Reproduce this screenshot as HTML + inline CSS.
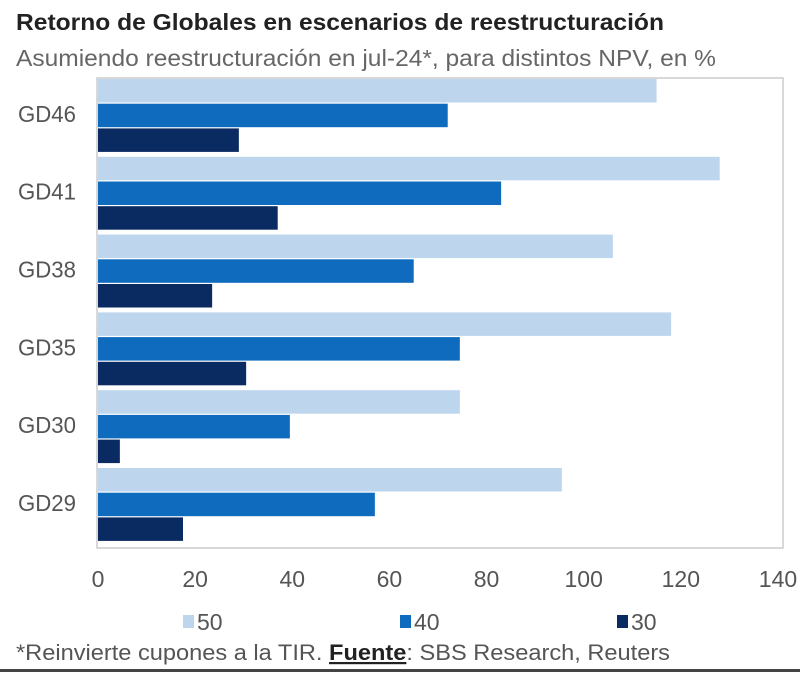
<!DOCTYPE html>
<html><head><meta charset="utf-8"><style>
body{margin:0;background:#fff;width:800px;height:672px;overflow:hidden;font-family:"Liberation Sans",sans-serif}
</style></head><body>
<svg width="800" height="672" style="font-family:'Liberation Sans',sans-serif">
<text x="16" y="30" font-size="23" font-weight="bold" fill="#222" textLength="648" lengthAdjust="spacingAndGlyphs">Retorno de Globales en escenarios de reestructuración</text>
<text x="16" y="66" font-size="23" fill="#666" textLength="700" lengthAdjust="spacingAndGlyphs">Asumiendo reestructuración en jul-24*, para distintos NPV, en %</text>
<rect x="97" y="78" width="686" height="470" fill="none" stroke="#ccc" stroke-width="1.5"/>
<g id="bars"></g><g id="ylabels"></g><g id="xticks"></g><g id="legend"></g>
<text x="16" y="660" font-size="22" fill="#555" textLength="654" lengthAdjust="spacingAndGlyphs">*Reinvierte cupones a la TIR. <tspan font-weight="bold" fill="#222" text-decoration="underline">Fuente</tspan>: SBS Research, Reuters</text>
<rect x="0" y="669" width="800" height="3" fill="#444"/>
</svg>
<script>
const categories=["GD46","GD41","GD38","GD35","GD30","GD29"];
const seriesNames=["50","40","30"];
const s50=[115,128,106,118,74.5,95.5];
const s40=[72,83,65,74.5,39.5,57];
const s30=[29,37,23.5,30.5,4.5,17.5];
const xTicks=[0,20,40,60,80,100,120,140];
const colors=["#bdd6ee","#0e6bbd","#0a2a62"];
const NS="http://www.w3.org/2000/svg";
const x0=98,xs=4.857,plotTop=79,groupH=77.8,barH=23.5,gap=1.2;
const X=v=>x0+v*xs;
function mk(tag,attrs,parent){const e=document.createElementNS(NS,tag);for(const k in attrs)e.setAttribute(k,attrs[k]);parent.appendChild(e);return e;}
const bars=document.getElementById('bars'),yl=document.getElementById('ylabels'),xt=document.getElementById('xticks'),lg=document.getElementById('legend');
const series=[s50,s40,s30];
categories.forEach((c,i)=>{
  const gy=plotTop+i*groupH;
  series.forEach((s,j)=>{
    const r=mk('rect',{x:X(0),y:gy+j*(barH+gap),width:X(s[i])-X(0),height:barH,fill:colors[j]},bars);
    
    
  });
  const t=mk('text',{x:18,y:gy+groupH/2+4,'font-size':23,fill:'#555',textLength:58,lengthAdjust:'spacingAndGlyphs'},yl);
  t.textContent=c;
  
  
});
xTicks.forEach(v=>{
  const t=mk('text',{x:X(v),y:587,'font-size':23,fill:'#555','text-anchor':'middle'},xt);
  t.textContent=v;
  
  
});
const lx=[183,400,617];
seriesNames.forEach((n,j)=>{
  const g=mk('g',{},lg);
  
  
  mk('rect',{x:lx[j],y:615,width:11,height:13,fill:colors[j]},g);
  const t=mk('text',{x:lx[j]+14,y:630,'font-size':23,fill:'#555'},g);
  t.textContent=n;
});
</script>
</body></html>
